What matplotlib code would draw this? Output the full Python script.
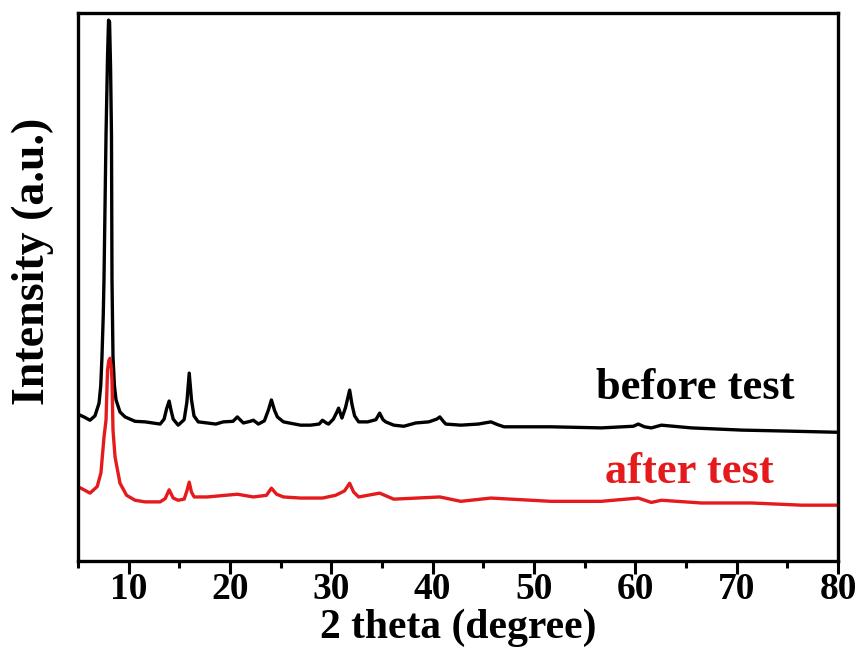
import matplotlib
matplotlib.use("Agg")
import matplotlib.pyplot as plt
from matplotlib.ticker import MultipleLocator

# XRD patterns (2 theta in degree, intensity in a.u.)
before_2theta = [5.00, 5.59, 6.19, 6.68, 7.08, 7.25, 7.37, 7.50, 7.57, 7.77,
                 7.92, 8.02, 8.12, 8.22, 8.31, 8.36, 8.46, 8.60, 8.76, 9.15,
                 9.65, 10.64, 11.63, 13.11, 13.50, 13.75, 14.00, 14.20, 14.40, 14.89,
                 15.48, 15.75, 15.98, 16.20, 16.45, 16.87, 17.76, 18.60, 19.34, 20.30,
                 20.73, 21.10, 21.32, 22.00, 22.31, 22.60, 22.80, 23.40, 23.80, 24.09,
                 24.40, 24.68, 25.28, 26.96, 27.95, 28.80, 29.13, 29.50, 29.73, 30.20,
                 30.50, 30.72, 31.05, 31.40, 31.81, 32.05, 32.30, 32.70, 33.59, 34.40,
                 34.77, 35.10, 35.37, 36.16, 37.15, 38.33, 39.62, 40.40, 40.71, 41.05,
                 41.30, 42.78, 44.50, 45.75, 46.40, 47.04, 51.69, 56.63, 59.80, 60.29,
                 60.90, 61.58, 62.57, 65.53, 70.48, 75.43, 80.00]
before_int = [26.8, 26.3, 25.7, 26.5, 28.8, 32.0, 37.2, 45.0, 51.3, 77.7,
              92.0, 98.7, 98.4, 90.0, 77.7, 51.3, 37.2, 32.0, 29.4, 27.2,
              26.3, 25.5, 25.4, 25.0, 25.9, 27.8, 29.2, 27.4, 25.9, 24.8,
              25.8, 29.0, 34.3, 29.5, 26.5, 25.4, 25.2, 25.0, 25.4, 25.5,
              26.3, 25.6, 25.2, 25.5, 25.7, 25.3, 25.0, 25.6, 27.6, 29.4,
              27.5, 26.3, 25.4, 24.8, 24.8, 25.0, 25.7, 25.2, 25.0, 25.9,
              27.0, 27.9, 26.1, 28.0, 31.2, 28.5, 26.5, 25.4, 25.4, 25.8,
              27.0, 25.8, 25.4, 24.8, 24.6, 25.2, 25.4, 25.9, 26.3, 25.5,
              25.0, 24.8, 25.0, 25.4, 24.9, 24.5, 24.5, 24.3, 24.6, 25.0,
              24.5, 24.3, 24.8, 24.3, 23.9, 23.7, 23.5]

after_2theta = [5.00, 5.30, 6.19, 6.90, 7.27, 7.57, 7.77, 7.92, 8.05, 8.17,
                8.28, 8.36, 8.46, 8.66, 9.15, 9.80, 10.64, 11.63, 13.11, 13.61,
                14.00, 14.40, 14.89, 15.48, 15.75, 15.98, 16.20, 16.47, 17.76, 20.73,
                22.31, 23.60, 24.09, 24.60, 25.28, 26.96, 29.13, 30.42, 31.30, 31.81,
                32.20, 32.70, 34.77, 36.16, 40.71, 42.78, 45.75, 51.69, 56.63, 60.29,
                61.58, 62.57, 66.52, 71.47, 76.42, 80.00]
after_int = [13.5, 13.3, 12.4, 13.6, 16.1, 22.6, 25.7, 34.9, 36.6, 37.0,
             35.5, 33.0, 23.9, 19.0, 14.2, 12.0, 11.1, 10.8, 10.8, 11.4,
             13.0, 11.5, 11.1, 11.3, 12.8, 14.4, 12.6, 11.7, 11.7, 12.2,
             11.7, 12.0, 13.3, 12.2, 11.7, 11.5, 11.5, 12.0, 12.8, 14.2,
             12.6, 11.7, 12.4, 11.3, 11.7, 10.9, 11.5, 10.9, 10.9, 11.5,
             10.7, 11.1, 10.6, 10.6, 10.2, 10.2]

x_ticks = [10, 20, 30, 40, 50, 60, 70, 80]

plt.rcParams['font.family'] = ['Liberation Serif', 'DejaVu Serif']
plt.rcParams['font.weight'] = 'bold'

fig = plt.figure(figsize=(8.66, 6.64), dpi=100)
ax = fig.add_axes([0.090, 0.155, 0.8777, 0.8254])

ax.plot(before_2theta, before_int, color='black', lw=2.4)
ax.plot(after_2theta, after_int, color='#e41a1c', lw=2.4)

ax.text(75.7, 29.6, 'before test', color='black', fontsize=32, fontweight='bold',
        ha='right', va='baseline')
ax.text(73.7, 14.2, 'after test', color='#e41a1c', fontsize=32, fontweight='bold',
        ha='right', va='baseline')

ax.set_xlim(5, 80)
ax.set_ylim(0, 100)
ax.set_xticks(x_ticks)
ax.xaxis.set_minor_locator(MultipleLocator(5))
ax.set_yticks([])
ax.tick_params(axis='x', which='major', direction='out', length=9, width=2.2,
               labelsize=27, pad=-1)
ax.tick_params(axis='x', which='minor', direction='out', length=5, width=2.2)
for lab in ax.get_xticklabels():
    lab.set_fontweight('bold')
for sp in ax.spines.values():
    sp.set_linewidth(2.4)

ax.set_xlabel('2 theta (degree)', fontsize=30, fontweight='bold')
ax.xaxis.set_label_coords(0.5, -0.086)
ax.xaxis.label.set_va('top')
ax.set_ylabel('Intensity (a.u.)', fontsize=33, fontweight='bold')
ax.yaxis.set_label_coords(-0.032, 0.547)

fig.savefig('out.png', dpi=100)
